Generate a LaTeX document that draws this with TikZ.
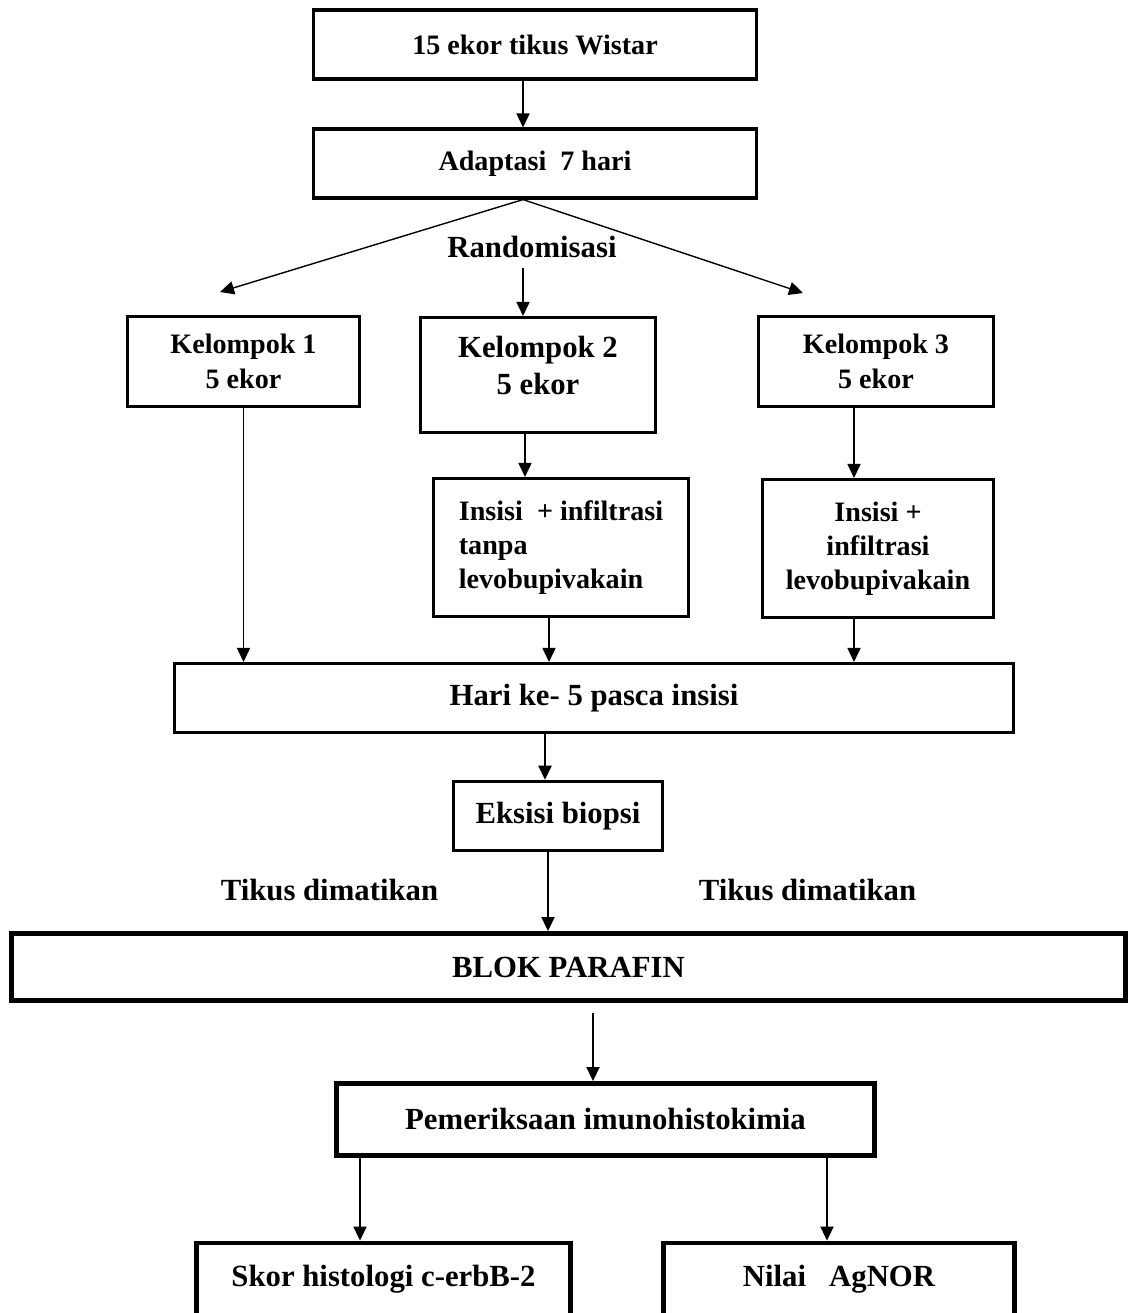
\documentclass[tikz,border=0pt]{standalone}
\usepackage{fontspec}
\setmainfont{Liberation Serif}
\usetikzlibrary{arrows.meta}

\tikzset{
  kotak/.style={draw=black, line width=1.8pt, align=center, inner sep=2pt,
    font=\bfseries\fontsize{17.5}{21}\selectfont},
  kecil/.style={font=\bfseries\fontsize{16}{19.5}\selectfont},
  tebal/.style={line width=2.8pt},
  teks/.style={font=\bfseries\fontsize{17.5}{21}\selectfont, inner sep=0pt},
  panah/.style={-{Triangle[length=8pt,width=7.5pt]}, line width=0.8pt}
}

\begin{document}
\begin{tikzpicture}[x=0.02cm, y=-0.02cm]

\useasboundingbox (0,0) rectangle (1130,1313);

% kotak atas
\node[kotak, kecil, minimum width=8.86cm, minimum height=1.38cm] (wistar) at (535,44.5) {15 ekor tikus Wistar};
\node[kotak, kecil, minimum width=8.86cm, minimum height=1.38cm] (adaptasi) at (535,163.5) {Adaptasi\ \ 7 hari};
\node[teks] (random) at (532,247) {Randomisasi};

\coordinate (sumbu) at (523,0);
\coordinate (kiri) at (220,292);
\coordinate (kanan) at (803,293);
\coordinate (tengah) at (523,268);

% kelompok
\node[kotak, kecil, minimum width=4.64cm, minimum height=1.8cm] (kel1) at (243.5,361.5) {Kelompok 1\\5 ekor};
\node[kotak, minimum width=4.7cm, minimum height=2.3cm, text depth=0.38cm] (kel2) at (538,375) {Kelompok 2\\5 ekor};
\node[kotak, kecil, minimum width=4.7cm, minimum height=1.8cm] (kel3) at (876,361.5) {Kelompok 3\\5 ekor};

\node[kotak, kecil, align=left, minimum width=5.1cm, minimum height=2.76cm] (insisi2) at (561,547.5) {Insisi\ \ + infiltrasi\\tanpa\\levobupivakain};
\node[kotak, kecil, minimum width=4.62cm, minimum height=2.76cm] (insisi3) at (878,548.5) {Insisi +\\infiltrasi\\levobupivakain};

\node[kotak, minimum width=16.78cm, minimum height=1.38cm] (hari) at (594,698) {Hari ke- 5 pasca insisi};
\node[kotak, line width=2pt, minimum width=4.18cm, minimum height=1.38cm] (eksisi) at (558,816) {Eksisi biopsi};

\node[teks] (tikus1) at (329.5,890) {Tikus dimatikan};
\node[teks] (tikus2) at (807.5,890) {Tikus dimatikan};

\node[kotak, tebal, minimum width=22.3cm, minimum height=1.34cm] (blok) at (568.5,967) {BLOK PARAFIN};
\node[kotak, tebal, minimum width=10.76cm, minimum height=1.44cm] (periksa) at (605.5,1119.5) {Pemeriksaan imunohistokimia};

\node[kotak, tebal, minimum width=7.48cm, minimum height=2.4cm, text depth=1.1cm] (skor) at (383.5,1303) {Skor histologi c-erbB-2};
\node[kotak, tebal, minimum width=7.02cm, minimum height=2.4cm, text depth=1.1cm] (nilai) at (839,1303) {Nilai\ \ \ AgNOR};

% panah
\draw[panah] (wistar.south -| sumbu) -- (adaptasi.north -| sumbu);
\draw[panah] (adaptasi.south -| sumbu) -- (kiri);
\draw[panah] (adaptasi.south -| sumbu) -- (kanan);
\draw[panah] (tengah) -- (tengah |- kel2.north);

\draw[panah] (kel1.south) -- (kel1.south |- hari.north);
\draw[panah] ([xshift=-0.26cm]kel2.south) -- ([xshift=-0.26cm]kel2.south |- insisi2.north);
\draw[panah] ([xshift=-0.44cm]kel3.south) -- ([xshift=-0.44cm]kel3.south |- insisi3.north);
\draw[panah] ([xshift=-0.24cm]insisi2.south) -- ([xshift=-0.24cm]insisi2.south |- hari.north);
\draw[panah] ([xshift=-0.48cm]insisi3.south) -- ([xshift=-0.48cm]insisi3.south |- hari.north);

\draw[panah] ([xshift=-0.26cm]eksisi.north |- hari.south) -- ([xshift=-0.26cm]eksisi.north);
\draw[panah] ([xshift=-0.2cm]eksisi.south) -- ([xshift=-0.2cm]eksisi.south |- blok.north);
\draw[panah, shorten <=0.2cm] ([xshift=-0.25cm]periksa.north |- blok.south) -- ([xshift=-0.25cm]periksa.north);

\draw[panah] ([xshift=-0.47cm]skor.north |- periksa.south) -- ([xshift=-0.47cm]skor.north);
\draw[panah] ([xshift=-0.24cm]nilai.north |- periksa.south) -- ([xshift=-0.24cm]nilai.north);

\end{tikzpicture}
\end{document}
